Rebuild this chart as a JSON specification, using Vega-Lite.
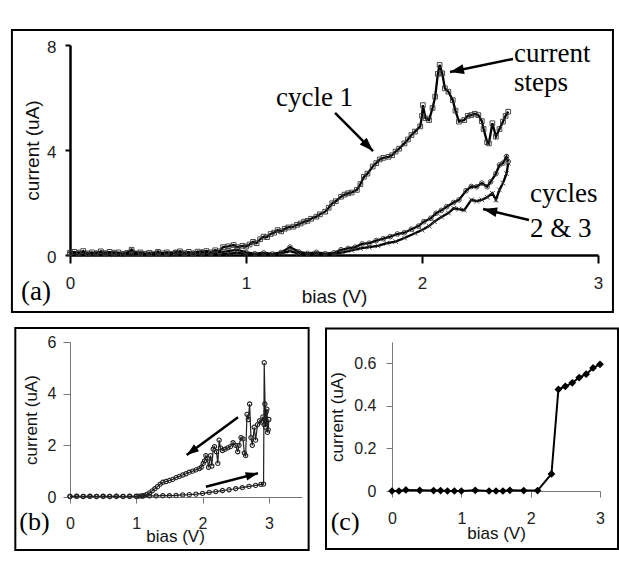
{
  "$schema": "https://vega.github.io/schema/vega-lite/v6.json",
  "background": "white",
  "padding": {"left": 10, "top": 29, "right": 4, "bottom": 4},
  "config": {
    "view": {"stroke": null},
    "axis": {"grid": false, "labelFont": "Liberation Sans", "titleFont": "Liberation Sans", "labelColor": "#222", "titleColor": "#111", "titleFontWeight": "normal", "labelFlush": false, "labelOverlap": false}
  },
  "datasets": {
    "A": [
      {"x":0,"y":0.08,"s":"c1"},{"x":0.025,"y":0.12,"s":"c1"},{"x":0.05,"y":0.05,"s":"c1"},{"x":0.075,"y":0.15,"s":"c1"},{"x":0.1,"y":0.06,"s":"c1"},{"x":0.125,"y":0.1,"s":"c1"},{"x":0.15,"y":0.04,"s":"c1"},{"x":0.175,"y":0.14,"s":"c1"},{"x":0.2,"y":0.07,"s":"c1"},{"x":0.225,"y":0.12,"s":"c1"},{"x":0.25,"y":0.05,"s":"c1"},{"x":0.275,"y":0.1,"s":"c1"},{"x":0.3,"y":0.03,"s":"c1"},{"x":0.325,"y":0.08,"s":"c1"},{"x":0.35,"y":0.2,"s":"c1"},{"x":0.375,"y":0.06,"s":"c1"},{"x":0.4,"y":0.1,"s":"c1"},{"x":0.425,"y":0.04,"s":"c1"},{"x":0.45,"y":0.08,"s":"c1"},{"x":0.475,"y":0.05,"s":"c1"},{"x":0.5,"y":0.12,"s":"c1"},{"x":0.525,"y":0.06,"s":"c1"},{"x":0.55,"y":0.1,"s":"c1"},{"x":0.575,"y":0.04,"s":"c1"},{"x":0.6,"y":0.09,"s":"c1"},{"x":0.625,"y":0.14,"s":"c1"},{"x":0.65,"y":0.07,"s":"c1"},{"x":0.675,"y":0.12,"s":"c1"},{"x":0.7,"y":0.05,"s":"c1"},{"x":0.725,"y":0.13,"s":"c1"},{"x":0.75,"y":0.08,"s":"c1"},{"x":0.775,"y":0.15,"s":"c1"},{"x":0.8,"y":0.1,"s":"c1"},{"x":0.825,"y":0.18,"s":"c1"},{"x":0.85,"y":0.14,"s":"c1"},
      {"x":0.87,"y":0.3,"s":"c1"},{"x":0.9,"y":0.33,"s":"c1"},{"x":0.93,"y":0.38,"s":"c1"},{"x":0.95,"y":0.3,"s":"c1"},{"x":0.98,"y":0.35,"s":"c1"},{"x":1.0,"y":0.32,"s":"c1"},{"x":1.02,"y":0.4,"s":"c1"},{"x":1.04,"y":0.5,"s":"c1"},{"x":1.06,"y":0.45,"s":"c1"},{"x":1.08,"y":0.6,"s":"c1"},{"x":1.1,"y":0.7,"s":"c1"},{"x":1.12,"y":0.68,"s":"c1"},{"x":1.14,"y":0.8,"s":"c1"},{"x":1.16,"y":0.85,"s":"c1"},{"x":1.18,"y":0.95,"s":"c1"},{"x":1.2,"y":0.9,"s":"c1"},{"x":1.22,"y":1.0,"s":"c1"},{"x":1.24,"y":1.05,"s":"c1"},{"x":1.27,"y":1.08,"s":"c1"},{"x":1.29,"y":1.15,"s":"c1"},{"x":1.31,"y":1.2,"s":"c1"},{"x":1.33,"y":1.27,"s":"c1"},{"x":1.35,"y":1.3,"s":"c1"},{"x":1.37,"y":1.38,"s":"c1"},{"x":1.4,"y":1.46,"s":"c1"},{"x":1.42,"y":1.55,"s":"c1"},{"x":1.45,"y":1.65,"s":"c1"},{"x":1.47,"y":1.8,"s":"c1"},{"x":1.49,"y":1.97,"s":"c1"},{"x":1.51,"y":2.05,"s":"c1"},{"x":1.54,"y":2.22,"s":"c1"},{"x":1.56,"y":2.3,"s":"c1"},{"x":1.58,"y":2.35,"s":"c1"},{"x":1.6,"y":2.38,"s":"c1"},{"x":1.63,"y":2.48,"s":"c1"},{"x":1.65,"y":2.7,"s":"c1"},{"x":1.67,"y":2.98,"s":"c1"},{"x":1.69,"y":3.1,"s":"c1"},{"x":1.72,"y":3.37,"s":"c1"},{"x":1.74,"y":3.5,"s":"c1"},{"x":1.76,"y":3.64,"s":"c1"},{"x":1.78,"y":3.7,"s":"c1"},{"x":1.81,"y":3.74,"s":"c1"},{"x":1.83,"y":3.8,"s":"c1"},{"x":1.85,"y":3.94,"s":"c1"},{"x":1.87,"y":4.05,"s":"c1"},{"x":1.9,"y":4.25,"s":"c1"},{"x":1.92,"y":4.4,"s":"c1"},{"x":1.94,"y":4.57,"s":"c1"},{"x":1.96,"y":4.7,"s":"c1"},{"x":1.99,"y":4.9,"s":"c1"},{"x":2.0,"y":5.3,"s":"c1"},{"x":2.005,"y":5.71,"s":"c1"},{"x":2.02,"y":5.21,"s":"c1"},{"x":2.04,"y":5.14,"s":"c1"},{"x":2.06,"y":5.6,"s":"c1"},{"x":2.075,"y":6.03,"s":"c1"},{"x":2.09,"y":6.9,"s":"c1"},{"x":2.1,"y":7.24,"s":"c1"},{"x":2.115,"y":6.92,"s":"c1"},{"x":2.13,"y":6.35,"s":"c1"},{"x":2.15,"y":6.22,"s":"c1"},{"x":2.175,"y":5.9,"s":"c1"},{"x":2.19,"y":5.5,"s":"c1"},{"x":2.21,"y":5.08,"s":"c1"},{"x":2.24,"y":5.14,"s":"c1"},{"x":2.26,"y":5.3,"s":"c1"},{"x":2.28,"y":5.33,"s":"c1"},{"x":2.3,"y":5.38,"s":"c1"},{"x":2.32,"y":5.33,"s":"c1"},{"x":2.34,"y":5.1,"s":"c1"},{"x":2.35,"y":4.8,"s":"c1"},{"x":2.37,"y":4.3,"s":"c1"},{"x":2.38,"y":4.25,"s":"c1"},{"x":2.4,"y":5.02,"s":"c1"},{"x":2.42,"y":4.51,"s":"c1"},{"x":2.44,"y":4.8,"s":"c1"},{"x":2.46,"y":5.08,"s":"c1"},{"x":2.475,"y":5.3,"s":"c1"},{"x":2.49,"y":5.46,"s":"c1"},
      {"x":0,"y":0.05,"s":"c2"},{"x":0.05,"y":0.1,"s":"c2"},{"x":0.1,"y":0.03,"s":"c2"},{"x":0.15,"y":0.08,"s":"c2"},{"x":0.2,"y":0.05,"s":"c2"},{"x":0.25,"y":0.1,"s":"c2"},{"x":0.3,"y":0.04,"s":"c2"},{"x":0.35,"y":0.15,"s":"c2"},{"x":0.4,"y":0.05,"s":"c2"},{"x":0.45,"y":0.03,"s":"c2"},{"x":0.5,"y":0.08,"s":"c2"},{"x":0.55,"y":0.05,"s":"c2"},{"x":0.6,"y":0.1,"s":"c2"},{"x":0.65,"y":0.04,"s":"c2"},{"x":0.7,"y":0.07,"s":"c2"},{"x":0.75,"y":0.12,"s":"c2"},{"x":0.8,"y":0.06,"s":"c2"},{"x":0.85,"y":0.1,"s":"c2"},{"x":0.9,"y":0.15,"s":"c2"},{"x":0.95,"y":0.2,"s":"c2"},{"x":1.0,"y":0.1,"s":"c2"},{"x":1.05,"y":0.05,"s":"c2"},{"x":1.1,"y":0.08,"s":"c2"},{"x":1.15,"y":0.04,"s":"c2"},{"x":1.2,"y":0.1,"s":"c2"},{"x":1.25,"y":0.3,"s":"c2"},{"x":1.3,"y":0.12,"s":"c2"},{"x":1.35,"y":0.06,"s":"c2"},{"x":1.4,"y":0.1,"s":"c2"},{"x":1.45,"y":0.05,"s":"c2"},{"x":1.5,"y":0.08,"s":"c2"},{"x":1.54,"y":0.2,"s":"c2"},{"x":1.58,"y":0.25,"s":"c2"},{"x":1.62,"y":0.3,"s":"c2"},{"x":1.66,"y":0.42,"s":"c2"},{"x":1.7,"y":0.45,"s":"c2"},{"x":1.74,"y":0.55,"s":"c2"},{"x":1.78,"y":0.62,"s":"c2"},{"x":1.82,"y":0.7,"s":"c2"},{"x":1.86,"y":0.8,"s":"c2"},{"x":1.9,"y":0.85,"s":"c2"},{"x":1.94,"y":0.98,"s":"c2"},{"x":1.98,"y":1.1,"s":"c2"},{"x":2.01,"y":1.27,"s":"c2"},{"x":2.05,"y":1.4,"s":"c2"},{"x":2.08,"y":1.59,"s":"c2"},{"x":2.11,"y":1.7,"s":"c2"},{"x":2.14,"y":1.84,"s":"c2"},{"x":2.18,"y":2.0,"s":"c2"},{"x":2.21,"y":2.1,"s":"c2"},{"x":2.25,"y":2.45,"s":"c2"},{"x":2.28,"y":2.61,"s":"c2"},{"x":2.31,"y":2.6,"s":"c2"},{"x":2.34,"y":2.74,"s":"c2"},{"x":2.37,"y":2.6,"s":"c2"},{"x":2.39,"y":2.79,"s":"c2"},{"x":2.42,"y":3.1,"s":"c2"},{"x":2.44,"y":3.43,"s":"c2"},{"x":2.46,"y":3.5,"s":"c2"},{"x":2.48,"y":3.75,"s":"c2"},{"x":2.49,"y":3.56,"s":"c2"},
      {"x":0,"y":0.03,"s":"c3"},{"x":0.05,"y":0.01,"s":"c3"},{"x":0.1,"y":0.06,"s":"c3"},{"x":0.15,"y":0.02,"s":"c3"},{"x":0.2,"y":0.04,"s":"c3"},{"x":0.25,"y":0.01,"s":"c3"},{"x":0.3,"y":0.05,"s":"c3"},{"x":0.35,"y":0.02,"s":"c3"},{"x":0.4,"y":0.07,"s":"c3"},{"x":0.45,"y":0.02,"s":"c3"},{"x":0.5,"y":0.04,"s":"c3"},{"x":0.55,"y":0.01,"s":"c3"},{"x":0.6,"y":0.05,"s":"c3"},{"x":0.65,"y":0.03,"s":"c3"},{"x":0.7,"y":0.06,"s":"c3"},{"x":0.75,"y":0.02,"s":"c3"},{"x":0.8,"y":0.04,"s":"c3"},{"x":0.85,"y":0.01,"s":"c3"},{"x":0.9,"y":0.05,"s":"c3"},{"x":0.95,"y":0.08,"s":"c3"},{"x":1.0,"y":0.04,"s":"c3"},{"x":1.05,"y":0.02,"s":"c3"},{"x":1.1,"y":0.05,"s":"c3"},{"x":1.15,"y":0.03,"s":"c3"},{"x":1.2,"y":0.06,"s":"c3"},{"x":1.25,"y":0.15,"s":"c3"},{"x":1.3,"y":0.05,"s":"c3"},{"x":1.35,"y":0.02,"s":"c3"},{"x":1.4,"y":0.06,"s":"c3"},{"x":1.45,"y":0.03,"s":"c3"},{"x":1.5,"y":0.05,"s":"c3"},{"x":1.55,"y":0.1,"s":"c3"},{"x":1.6,"y":0.18,"s":"c3"},{"x":1.65,"y":0.25,"s":"c3"},{"x":1.7,"y":0.3,"s":"c3"},{"x":1.75,"y":0.35,"s":"c3"},{"x":1.8,"y":0.45,"s":"c3"},{"x":1.85,"y":0.51,"s":"c3"},{"x":1.9,"y":0.65,"s":"c3"},{"x":1.96,"y":0.83,"s":"c3"},{"x":2.0,"y":0.95,"s":"c3"},{"x":2.04,"y":1.1,"s":"c3"},{"x":2.07,"y":1.27,"s":"c3"},{"x":2.11,"y":1.45,"s":"c3"},{"x":2.15,"y":1.6,"s":"c3"},{"x":2.18,"y":1.78,"s":"c3"},{"x":2.21,"y":1.75,"s":"c3"},{"x":2.24,"y":1.71,"s":"c3"},{"x":2.28,"y":2.1,"s":"c3"},{"x":2.31,"y":2.05,"s":"c3"},{"x":2.34,"y":2.1,"s":"c3"},{"x":2.37,"y":2.2,"s":"c3"},{"x":2.4,"y":2.35,"s":"c3"},{"x":2.42,"y":2.1,"s":"c3"},{"x":2.44,"y":2.48,"s":"c3"},{"x":2.46,"y":2.74,"s":"c3"},{"x":2.48,"y":3.1,"s":"c3"},{"x":2.49,"y":3.5,"s":"c3"}
    ],
    "arrA": [
      {"x":1.506,"y":5.41,"x2":1.722,"y2":3.96,"angle":135},
      {"x":2.517,"y":7.47,"x2":2.159,"y2":6.97,"angle":258},
      {"x":2.608,"y":1.333,"x2":2.347,"y2":1.752,"angle":283}
    ],
    "annA": [
      {"x":1.17,"y":5.68,"t":"cycle 1"},
      {"x":2.523,"y":7.36,"t":"current"},
      {"x":2.523,"y":6.23,"t":"steps"},
      {"x":2.614,"y":2.02,"t":"cycles"},
      {"x":2.614,"y":0.686,"t":"2 & 3"},
      {"x":-0.278,"y":-1.71,"t":"(a)"}
    ],
    "B": [
      {"x":0,"y":0.02,"o":1},{"x":0.1,"y":0.03,"o":2},{"x":0.2,"y":0.02,"o":3},{"x":0.3,"y":0.03,"o":4},{"x":0.4,"y":0.02,"o":5},{"x":0.5,"y":0.03,"o":6},{"x":0.6,"y":0.02,"o":7},{"x":0.7,"y":0.03,"o":8},{"x":0.8,"y":0.02,"o":9},{"x":0.9,"y":0.03,"o":10},{"x":1.0,"y":0.03,"o":11},{"x":1.1,"y":0.03,"o":12},{"x":1.2,"y":0.04,"o":13},{"x":1.3,"y":0.04,"o":14},{"x":1.4,"y":0.05,"o":15},{"x":1.5,"y":0.05,"o":16},{"x":1.6,"y":0.06,"o":17},{"x":1.7,"y":0.08,"o":18},{"x":1.8,"y":0.09,"o":19},{"x":1.9,"y":0.11,"o":20},{"x":2.0,"y":0.14,"o":21},{"x":2.1,"y":0.18,"o":22},{"x":2.2,"y":0.21,"o":23},{"x":2.3,"y":0.25,"o":24},{"x":2.4,"y":0.28,"o":25},{"x":2.5,"y":0.32,"o":26},{"x":2.6,"y":0.36,"o":27},{"x":2.7,"y":0.41,"o":28},{"x":2.8,"y":0.45,"o":29},{"x":2.88,"y":0.49,"o":30},{"x":2.92,"y":0.5,"o":31},
      {"x":2.93,"y":5.2,"o":32},{"x":2.95,"y":2.7,"o":33},{"x":2.97,"y":3.4,"o":34},{"x":2.99,"y":2.6,"o":35},{"x":3.0,"y":3.0,"o":36},{"x":2.98,"y":2.5,"o":37},{"x":2.96,"y":3.3,"o":38},{"x":2.94,"y":3.6,"o":39},{"x":2.93,"y":2.8,"o":40},{"x":2.91,"y":3.1,"o":41},{"x":2.89,"y":2.9,"o":42},{"x":2.86,"y":2.95,"o":43},{"x":2.83,"y":2.8,"o":44},{"x":2.8,"y":2.2,"o":45},{"x":2.78,"y":2.7,"o":46},{"x":2.75,"y":2.0,"o":47},{"x":2.73,"y":2.3,"o":48},{"x":2.71,"y":3.6,"o":49},{"x":2.69,"y":3.0,"o":50},{"x":2.67,"y":3.2,"o":51},{"x":2.65,"y":1.6,"o":52},{"x":2.63,"y":1.7,"o":53},{"x":2.61,"y":2.25,"o":54},{"x":2.58,"y":2.3,"o":55},{"x":2.55,"y":2.0,"o":56},{"x":2.53,"y":1.75,"o":57},{"x":2.5,"y":2.0,"o":58},{"x":2.46,"y":2.1,"o":59},{"x":2.42,"y":1.95,"o":60},{"x":2.38,"y":1.9,"o":61},{"x":2.34,"y":1.85,"o":62},{"x":2.3,"y":1.8,"o":63},{"x":2.27,"y":1.9,"o":64},{"x":2.25,"y":2.2,"o":65},{"x":2.23,"y":1.3,"o":66},{"x":2.21,"y":1.75,"o":67},{"x":2.18,"y":1.95,"o":68},{"x":2.16,"y":1.85,"o":69},{"x":2.14,"y":1.2,"o":70},{"x":2.12,"y":1.6,"o":71},{"x":2.09,"y":1.15,"o":72},{"x":2.07,"y":1.5,"o":73},{"x":2.05,"y":1.6,"o":74},{"x":2.03,"y":1.4,"o":75},{"x":2.01,"y":1.3,"o":76},{"x":1.98,"y":1.15,"o":77},{"x":1.95,"y":1.1,"o":78},{"x":1.9,"y":1.05,"o":79},{"x":1.85,"y":1.0,"o":80},{"x":1.8,"y":0.96,"o":81},{"x":1.75,"y":0.9,"o":82},{"x":1.7,"y":0.85,"o":83},{"x":1.65,"y":0.8,"o":84},{"x":1.6,"y":0.75,"o":85},{"x":1.55,"y":0.68,"o":86},{"x":1.5,"y":0.64,"o":87},{"x":1.45,"y":0.6,"o":88},{"x":1.4,"y":0.57,"o":89},{"x":1.36,"y":0.5,"o":90},{"x":1.32,"y":0.4,"o":91},{"x":1.28,"y":0.32,"o":92},{"x":1.24,"y":0.24,"o":93},{"x":1.2,"y":0.16,"o":94},{"x":1.16,"y":0.1,"o":95},{"x":1.12,"y":0.06,"o":96},{"x":1.08,"y":0.04,"o":97},{"x":1.04,"y":0.03,"o":98},{"x":1.0,"y":0.02,"o":99},{"x":0.9,"y":0.02,"o":100},{"x":0.8,"y":0.02,"o":101},{"x":0.7,"y":0.02,"o":102},{"x":0.6,"y":0.02,"o":103},{"x":0.5,"y":0.02,"o":104},{"x":0.4,"y":0.02,"o":105},{"x":0.3,"y":0.02,"o":106},{"x":0.2,"y":0.02,"o":107},{"x":0.1,"y":0.02,"o":108},{"x":0,"y":0.02,"o":109}
    ],
    "arrB": [
      {"x":2.535,"y":3.085,"x2":1.76,"y2":1.626,"angle":234},
      {"x":2.05,"y":0.4,"x2":2.835,"y2":0.92,"angle":75.6}
    ],
    "annB": [{"x":-0.765,"y":-1.28,"t":"(b)"}],
    "C": [
      {"x":0,"y":0},{"x":0.1,"y":0},{"x":0.2,"y":0.005},{"x":0.4,"y":0.003},{"x":0.6,"y":0.002},{"x":0.7,"y":0.002},{"x":0.8,"y":0},{"x":0.9,"y":0},{"x":1.0,"y":0},{"x":1.2,"y":0.003},{"x":1.4,"y":0},{"x":1.5,"y":0},{"x":1.6,"y":0},{"x":1.7,"y":0.003},{"x":1.9,"y":0.002},{"x":2.1,"y":0.002},{"x":2.3,"y":0.08},{"x":2.4,"y":0.477},{"x":2.5,"y":0.492},{"x":2.6,"y":0.508},{"x":2.7,"y":0.533},{"x":2.8,"y":0.549},{"x":2.9,"y":0.578},{"x":3.0,"y":0.595}
    ],
    "annC": [{"x":-0.884,"y":-0.183,"t":"(c)"}],
    "frame": [{"k": 1}]
  },
  "spacing": 14,
  "vconcat": [
    {
      "width": 528,
      "height": 210,
      "layer": [
        {"data": {"name": "A"}, "mark": {"type": "line", "color": "black", "strokeWidth": 2.3},
          "encoding": {
            "x": {"field": "x", "type": "quantitative", "scale": {"domain": [0, 3], "nice": false, "zero": false},
              "axis": {"title": "bias (V)", "values": [0, 1, 2, 3], "format": "d", "domainColor": "black", "domainWidth": 2.5, "tickColor": "black", "tickWidth": 2, "tickSize": 8, "labelPadding": 12, "labelFontSize": 17, "titleFontSize": 19, "titlePadding": -4}},
            "y": {"field": "y", "type": "quantitative", "scale": {"domain": [0, 8], "nice": false, "zero": false},
              "axis": {"title": "current (uA)", "values": [0, 4, 8], "format": "d", "domainColor": "black", "domainWidth": 2.5, "tickColor": "black", "tickWidth": 2, "tickSize": 5, "labelPadding": 9, "labelOffset": 2, "labelFontSize": 17, "titleFontSize": 19, "titlePadding": 4}},
            "detail": {"field": "s", "type": "nominal"}
          }},
        {"data": {"name": "A"}, "mark": {"type": "point", "filled": false, "color": "#333", "strokeWidth": 0.9, "size": 22, "opacity": 1},
          "encoding": {
            "x": {"field": "x", "type": "quantitative"}, "y": {"field": "y", "type": "quantitative"},
            "shape": {"field": "s", "type": "nominal", "scale": {"domain": ["c1", "c2", "c3"], "range": ["square", "circle", "M-1,-1L1,1M-1,1L1,-1"]}, "legend": null}}},
        {"data": {"name": "arrA"}, "mark": {"type": "rule", "color": "black", "strokeWidth": 2.5},
          "encoding": {"x": {"field": "x", "type": "quantitative"}, "y": {"field": "y", "type": "quantitative"}, "x2": {"field": "x2"}, "y2": {"field": "y2"}}},
        {"data": {"name": "arrA"}, "mark": {"type": "point", "shape": "M0,0L-0.7,2L0.7,2Z", "filled": true, "color": "black", "size": 196, "opacity": 1},
          "encoding": {"x": {"field": "x2", "type": "quantitative"}, "y": {"field": "y2", "type": "quantitative"}, "angle": {"field": "angle", "type": "quantitative", "scale": null}}},
        {"data": {"name": "annA"}, "mark": {"type": "text", "font": "Liberation Serif", "fontSize": 27, "align": "left", "baseline": "alphabetic", "color": "black"},
          "encoding": {"x": {"field": "x", "type": "quantitative"}, "y": {"field": "y", "type": "quantitative"}, "text": {"field": "t"}}},
        {"data": {"name": "frame"}, "mark": {"type": "rect", "filled": false, "color": "black", "strokeWidth": 2, "opacity": 1},
          "encoding": {"x": {"datum": -0.33, "type": "quantitative"}, "x2": {"datum": 3.085}, "y": {"datum": 8.571, "type": "quantitative"}, "y2": {"datum": -2.171}}}
      ]
    },
    {
      "spacing": 14,
      "hconcat": [
        {
          "width": 232,
          "height": 155,
          "layer": [
            {"data": {"name": "B"}, "mark": {"type": "line", "color": "#222", "strokeWidth": 1.2},
              "encoding": {
                "x": {"field": "x", "type": "quantitative", "scale": {"domain": [0, 3.5], "nice": false, "zero": false},
                  "axis": {"title": "bias (V)", "values": [0, 1, 2, 3], "format": "d", "domainColor": "#777", "tickColor": "#777", "tickSize": 6, "labelPadding": 12, "labelFontSize": 16, "titleFontSize": 17, "titlePadding": -3, "titleX": 105}},
                "y": {"field": "y", "type": "quantitative", "scale": {"domain": [0, 6], "nice": false, "zero": false},
                  "axis": {"title": "current (uA)", "values": [0, 2, 4, 6], "format": "d", "domainColor": "#777", "tickColor": "#777", "tickSize": 7, "labelPadding": 7, "labelFontSize": 16, "titleFontSize": 17, "titlePadding": 7}},
                "order": {"field": "o", "type": "quantitative"}
              }},
            {"data": {"name": "B"}, "mark": {"type": "point", "shape": "circle", "filled": false, "color": "#222", "strokeWidth": 1.1, "size": 18, "opacity": 1},
              "encoding": {"x": {"field": "x", "type": "quantitative"}, "y": {"field": "y", "type": "quantitative"}}},
            {"data": {"name": "arrB"}, "mark": {"type": "rule", "color": "black", "strokeWidth": 2.5},
              "encoding": {"x": {"field": "x", "type": "quantitative"}, "y": {"field": "y", "type": "quantitative"}, "x2": {"field": "x2"}, "y2": {"field": "y2"}}},
            {"data": {"name": "arrB"}, "mark": {"type": "point", "shape": "M0,0L-0.7,2L0.7,2Z", "filled": true, "color": "black", "size": 150, "opacity": 1},
              "encoding": {"x": {"field": "x2", "type": "quantitative"}, "y": {"field": "y2", "type": "quantitative"}, "angle": {"field": "angle", "type": "quantitative", "scale": null}}},
            {"data": {"name": "annB"}, "mark": {"type": "text", "font": "Liberation Serif", "fontSize": 26, "align": "left", "baseline": "alphabetic", "color": "black"},
              "encoding": {"x": {"field": "x", "type": "quantitative"}, "y": {"field": "y", "type": "quantitative"}, "text": {"field": "t"}}},
            {"data": {"name": "frame"}, "mark": {"type": "rect", "filled": false, "color": "black", "strokeWidth": 2, "opacity": 1},
              "encoding": {"x": {"datum": -0.825, "type": "quantitative"}, "x2": {"datum": 3.6}, "y": {"datum": 6.54, "type": "quantitative"}, "y2": {"datum": -2.05}}}
          ]
        },
        {
          "width": 208,
          "height": 149,
          "layer": [
            {"data": {"name": "C"}, "mark": {"type": "line", "color": "black", "strokeWidth": 2},
              "encoding": {
                "x": {"field": "x", "type": "quantitative", "scale": {"domain": [0, 3], "nice": false, "zero": false},
                  "axis": {"title": "bias (V)", "values": [0, 1, 2, 3], "format": "d", "domainColor": "#777", "tickColor": "#777", "tickSize": 6, "labelPadding": 13, "labelFontSize": 16, "titleFontSize": 17, "titlePadding": -1}},
                "y": {"field": "y", "type": "quantitative", "scale": {"domain": [0, 0.7], "nice": false, "zero": false},
                  "axis": {"title": "current (uA)", "values": [0, 0.2, 0.4, 0.6], "format": "~g", "domainColor": "#777", "tickColor": "#777", "tickSize": 6, "labelPadding": 10, "labelFontSize": 16, "titleFontSize": 17, "titlePadding": 7}}
              }},
            {"data": {"name": "C"}, "mark": {"type": "point", "shape": "diamond", "filled": true, "color": "black", "size": 60, "opacity": 1},
              "encoding": {"x": {"field": "x", "type": "quantitative"}, "y": {"field": "y", "type": "quantitative"}}},
            {"data": {"name": "annC"}, "mark": {"type": "text", "font": "Liberation Serif", "fontSize": 26, "align": "left", "baseline": "alphabetic", "color": "black"},
              "encoding": {"x": {"field": "x", "type": "quantitative"}, "y": {"field": "y", "type": "quantitative"}, "text": {"field": "t"}}},
            {"data": {"name": "frame"}, "mark": {"type": "rect", "filled": false, "color": "black", "strokeWidth": 2, "opacity": 1},
              "encoding": {"x": {"datum": -0.952, "type": "quantitative"}, "x2": {"datum": 3.26}, "y": {"datum": 0.764, "type": "quantitative"}, "y2": {"datum": -0.272}}}
          ]
        }
      ]
    }
  ]
}
